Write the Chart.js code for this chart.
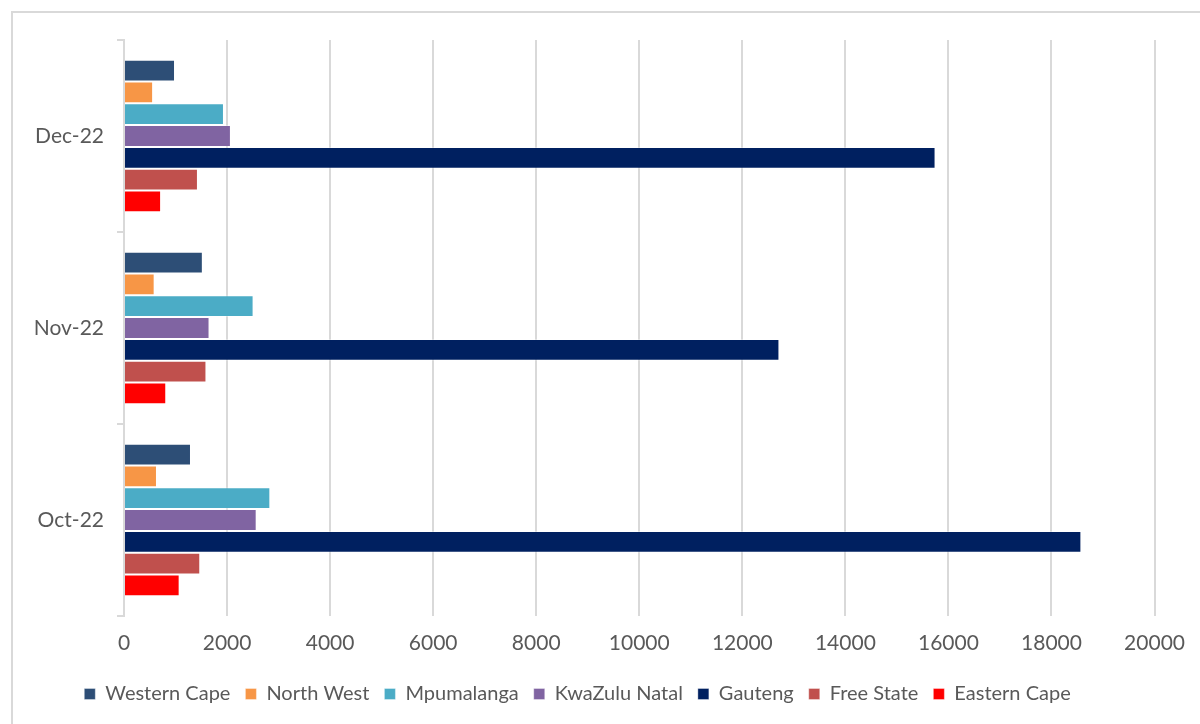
<!DOCTYPE html>
<html>
<head>
<meta charset="utf-8">
<script src="https://cdn.jsdelivr.net/npm/chart.js@4.4.1/dist/chart.umd.min.js"></script>
<style>
  html, body { margin: 0; padding: 0; background: #fff; }
  #frame {
    position: absolute; left: 11px; top: 11px;
    width: 1200px; height: 760px;
    border: 2px solid #d9d9d9;
  }
  #wrap { position: absolute; left: 0; top: 0; width: 1200px; height: 724px; }
</style>
</head>
<body>
<div id="frame"></div>
<div id="wrap"><canvas id="chart" width="1200" height="724"></canvas></div>
<script>
// categories, top to bottom as shown
const months = ['Dec-22', 'Nov-22', 'Oct-22'];

// series values
const westernCape  = [990, 1530, 1300];
const northWest    = [565, 595, 640];
const mpumalanga   = [1940, 2515, 2840];
const kwaZuluNatal = [2075, 1660, 2575];
const gauteng      = [15750, 12720, 18580];
const freeState    = [1435, 1600, 1480];
const easternCape  = [720, 820, 1080];

const xTicksMax = 20000;
const xTicksStep = 2000;

const textColor = '#595959';
const gridColor = '#d9d9d9';
const fontFamily = 'Lato, "Open Sans", sans-serif';

function series(label, data, color) {
    return {
        label: label,
        data: data,
        backgroundColor: color,
        borderColor: 'rgba(255,255,255,0.35)',
        borderWidth: 1,
        categoryPercentage: 0.795,
        barPercentage: 1.0
    };
}

new Chart(document.getElementById('chart'), {
    type: 'bar',
    data: {
        labels: months,
        datasets: [
            series('Western Cape', westernCape, '#2D4E76'),
            series('North West', northWest, '#F79646'),
            series('Mpumalanga', mpumalanga, '#4BACC6'),
            series('KwaZulu Natal', kwaZuluNatal, '#8064A2'),
            series('Gauteng', gauteng, '#002060'),
            series('Free State', freeState, '#C0504D'),
            series('Eastern Cape', easternCape, '#FF0000')
        ]
    },
    options: {
        indexAxis: 'y',
        responsive: false,
        animation: false,
        layout: { padding: { left: 0, right: 45, top: 40, bottom: 10 } },
        scales: {
            x: {
                min: 0,
                max: xTicksMax,
                ticks: {
                    stepSize: xTicksStep,
                    color: textColor,
                    font: { family: fontFamily, size: 21 },
                    padding: 15,
                    callback: function (v) { return String(v); }
                },
                grid: { color: gridColor, lineWidth: 2, drawTicks: false },
                border: { display: false },
                afterFit: function (scale) { scale.height = 53; }
            },
            y: {
                offset: true,
                ticks: {
                    color: textColor,
                    font: { family: fontFamily, size: 21 },
                    padding: 13
                },
                grid: {
                    offset: true,
                    drawOnChartArea: false,
                    drawTicks: true,
                    tickLength: 7,
                    color: gridColor,
                    lineWidth: 2
                },
                border: { color: gridColor, width: 2 },
                afterFit: function (scale) { scale.width = 124; }
            }
        },
        plugins: {
            legend: {
                position: 'bottom',
                labels: {
                    color: textColor,
                    font: { family: fontFamily, size: 20 },
                    boxWidth: 11,
                    boxHeight: 11,
                    padding: 15
                }
            },
            tooltip: { enabled: false }
        }
    }
});
</script>
</body>
</html>
